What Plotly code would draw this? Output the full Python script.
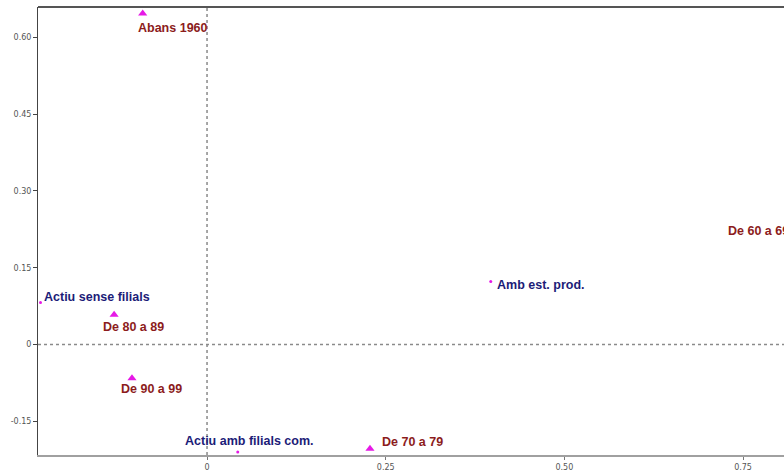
import plotly.graph_objects as go

# Period categories (triangle markers)
period_labels = ["Abans 1960", "De 60 a 69", "De 70 a 79", "De 80 a 89", "De 90 a 99"]
period_x = [-0.090, 0.842, 0.228, -0.130, -0.105]
period_y = [0.647, 0.222, -0.204, 0.058, -0.066]

# Company-type categories (small dots)
type_labels = ["Actiu sense filials", "Actiu amb filials com.", "Amb est. prod."]
type_x = [-0.233, 0.043, 0.397]
type_y = [0.082, -0.210, 0.123]

# Axis ticks
x_ticks = [0, 0.25, 0.50, 0.75]
x_tick_text = ["0", "0.25", "0.50", "0.75"]
y_ticks = [-0.15, 0, 0.15, 0.30, 0.45, 0.60]
y_tick_text = ["-0.15", "0", "0.15", "0.30", "0.45", "0.60"]

X_RANGE = [-0.2365, 0.8073]
Y_RANGE = [-0.216, 0.6595]

# Label placement (pixel offsets from the point, xanchor)
period_offsets = {
    "Abans 1960": (-7, -15, "left"),
    "De 60 a 69": (-18, 0, "right"),
    "De 70 a 79": (10, 7, "left"),
    "De 80 a 89": (-13, -12, "left"),
    "De 90 a 99": (-13, -11, "left"),
}
type_offsets = {
    "Actiu sense filials": (1, 6, "left"),
    "Actiu amb filials com.": (-55, 11, "left"),
    "Amb est. prod.": (4, -3, "left"),
}

MAGENTA = "#e619e6"
RED = "#8c1c1c"
BLUE = "#1c1c78"
LABEL_FONT = "Liberation Sans"


def label(text, x, y, offset, color):
    """Text label next to a point; points past the x range are placed in
    paper units so their label still shows, running off the right edge."""
    dx, dy, anchor = offset
    ann = dict(
        y=y, yref="y", text=text, showarrow=False,
        xanchor=anchor, yanchor="middle", xshift=dx, yshift=dy,
        font=dict(family=LABEL_FONT, size=12.5, color=color, weight="bold"),
    )
    if X_RANGE[0] <= x <= X_RANGE[1]:
        ann.update(x=x, xref="x")
    else:
        ann.update(x=(x - X_RANGE[0]) / (X_RANGE[1] - X_RANGE[0]), xref="paper")
    return ann


fig = go.Figure()
fig.add_trace(go.Scatter(
    x=period_x, y=period_y, mode="markers",
    marker=dict(symbol="triangle-up", size=8, color=MAGENTA),
    hoverinfo="text", text=period_labels,
))
fig.add_trace(go.Scatter(
    x=type_x, y=type_y, mode="markers",
    marker=dict(symbol="circle", size=3, color=MAGENTA),
    hoverinfo="text", text=type_labels,
))

annotations = []
for lab, x, y in zip(period_labels, period_x, period_y):
    annotations.append(label(lab, x, y, period_offsets[lab], RED))
for lab, x, y in zip(type_labels, type_x, type_y):
    annotations.append(label(lab, x, y, type_offsets[lab], BLUE))

shapes = [
    # dotted reference lines through the origin
    dict(type="line", xref="x", yref="paper", x0=0, x1=0, y0=0, y1=1,
         line=dict(color="#8a8a8a", width=1.5, dash="dot"), layer="below"),
    dict(type="line", xref="paper", yref="y", x0=0, x1=1, y0=0, y1=0,
         line=dict(color="#8a8a8a", width=1.5, dash="dot"), layer="below"),
    # top frame line
    dict(type="line", xref="paper", yref="paper", x0=0, x1=1, y0=1, y1=1,
         line=dict(color="#555555", width=2)),
]

fig.update_layout(
    width=784, height=472,
    margin=dict(l=38, r=0, t=7, b=15),
    paper_bgcolor="white", plot_bgcolor="white",
    showlegend=False,
    annotations=annotations,
    shapes=shapes,
    xaxis=dict(
        range=X_RANGE, tickvals=x_ticks, ticktext=x_tick_text,
        showgrid=False, zeroline=False, showline=True, linecolor="#a0a0a0", linewidth=2,
        ticks="outside", ticklen=3, tickcolor="#777777",
        tickfont=dict(family="DejaVu Sans", size=8, color="#555555"),
    ),
    yaxis=dict(
        range=Y_RANGE, tickvals=y_ticks, ticktext=y_tick_text,
        showgrid=False, zeroline=False, showline=True, linecolor="#444444", linewidth=1,
        ticks="outside", ticklen=4, tickcolor="#444444",
        tickfont=dict(family="DejaVu Sans", size=8, color="#555555"),
    ),
)

fig.write_html("out.html")
